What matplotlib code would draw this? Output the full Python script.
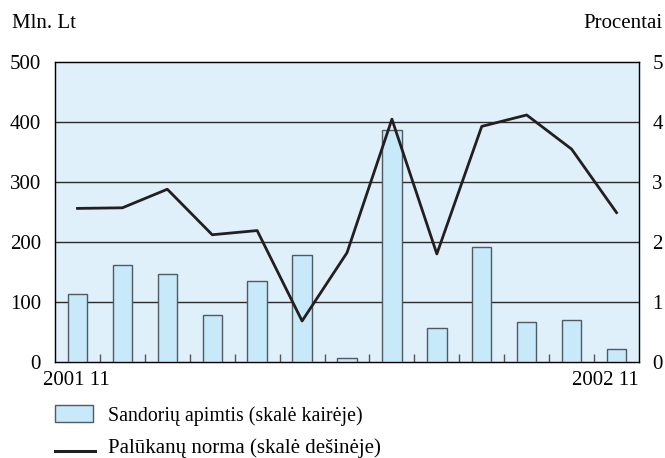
import matplotlib
matplotlib.use("Agg")
import matplotlib.pyplot as plt
from matplotlib.patches import Rectangle
from matplotlib.lines import Line2D

plt.rcParams['font.family'] = ['Liberation Serif', 'DejaVu Serif']

months = ["2001 11", "2001 12", "2002 01", "2002 02", "2002 03", "2002 04", "2002 05",
          "2002 06", "2002 07", "2002 08", "2002 09", "2002 10", "2002 11"]
volume = [113, 162, 147, 78, 135, 178, 6, 387, 56, 191, 67, 70, 22]
rate = [2.56, 2.57, 2.88, 2.12, 2.19, 0.68, 1.82, 4.05, 1.80, 3.93, 4.12, 3.55, 2.49]
left_ticks = [0, 100, 200, 300, 400, 500]
right_ticks = [0, 1, 2, 3, 4, 5]
bar_label = "Sandorių apimtis (skalė kairėje)"
line_label = "Palūkanų norma (skalė dešinėje)"

W, H = 665, 458
FS = 15

def fx(px):
    return px / W

def fy(py):
    return 1 - py / H

fig = plt.figure(figsize=(6.65, 4.58), dpi=100)
ax = fig.add_axes([fx(55), fy(361.7), fx(639) - fx(55), fy(62.3) - fy(361.7)])
ax.set_facecolor('#dff0fa')
x = list(range(len(months)))
ax.bar(x, volume, width=0.43, color='#c8e9f9', edgecolor='#4f5a61', linewidth=1.0, zorder=3)
ax.set_xlim(-0.5, len(months) - 0.5)
ax.set_ylim(0, 500)
for v in left_ticks[1:-1]:
    ax.axhline(v, color='#2a2a2a', linewidth=1.0, zorder=1)
ax.set_yticks(left_ticks)
ax.tick_params(axis='y', length=0, pad=10, labelsize=FS)
ax.set_xticks([i + 0.5 for i in x[:-1]])
ax.set_xticklabels([])
ax.tick_params(axis='x', direction='in', length=6, width=1, color='#555555')
for s in ax.spines.values():
    s.set_color('#222222')
    s.set_linewidth(1.0)

ax2 = ax.twinx()
ax2.plot(x, rate, color='#231f20', linewidth=2.0, zorder=5)
ax2.set_ylim(0, 5)
ax2.set_yticks(right_ticks)
ax2.tick_params(axis='y', length=0, pad=9.5, labelsize=FS)

fig.text(fx(43), fy(385), months[0], ha='left', va='baseline', fontsize=FS)
fig.text(fx(639), fy(385), months[-1], ha='right', va='baseline', fontsize=FS)

fig.text(fx(12.5), fy(28), "Mln. Lt", ha='left', va='baseline', fontsize=FS)
fig.text(fx(662), fy(28), "Procentai", ha='right', va='baseline', fontsize=FS)

fig.patches.append(Rectangle((fx(55), fy(421.5)), fx(92.5) - fx(55), fy(404.5) - fy(421.5),
                             transform=fig.transFigure,
                             facecolor='#c8e9f9', edgecolor='#4f5a61', linewidth=1.0))
fig.text(fx(108), fy(421.5), bar_label, ha='left', va='baseline', fontsize=14.3)
fig.lines.append(Line2D([fx(55), fx(95)], [fy(451), fy(451)], transform=fig.transFigure,
                        color='#231f20', linewidth=2.2))
fig.text(fx(108), fy(452.5), line_label, ha='left', va='baseline', fontsize=FS)

fig.savefig("out.png", dpi=100)
